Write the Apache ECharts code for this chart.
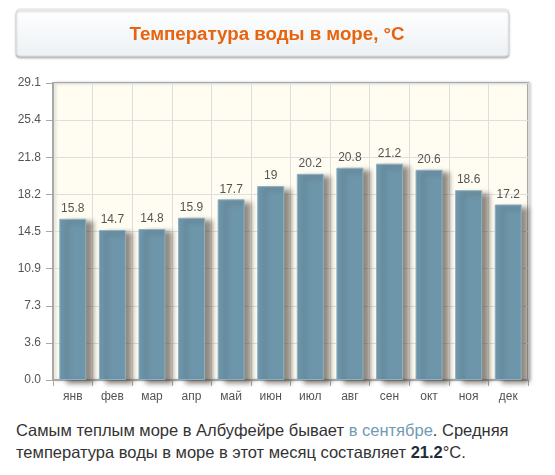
<!DOCTYPE html>
<html>
<head>
<meta charset="utf-8">
<script src="https://cdn.jsdelivr.net/npm/echarts@6/dist/echarts.min.js"></script>
<style>
  body { margin: 0; background: #fff; }
  #wrap { position: relative; width: 555px; height: 475px; }
  #chart { position: absolute; left: 0; top: 0; width: 555px; height: 410px; }
  #note {
    position: absolute; left: 16px; top: 419px; width: 535px;
    font-family: "Liberation Sans", Arial, sans-serif; font-size: 16.5px;
    line-height: 22px; color: #333;
  }
  #note .lnk { color: #6f9bb3; }
  #note b { color: #1f2d3a; }
</style>
</head>
<body>
<div id="wrap">
  <div id="chart"></div>
  <div id="note">Самым теплым море в Албуфейре бывает <span class="lnk">в сентябре</span>. Средняя температура воды в море в этот месяц составляет <b>21.2</b>°C.</div>
</div>
<script>
// данные
var months = ['янв', 'фев', 'мар', 'апр', 'май', 'июн', 'июл', 'авг', 'сен', 'окт', 'ноя', 'дек'];
var waterTemp = [15.8, 14.7, 14.8, 15.9, 17.7, 19, 20.2, 20.8, 21.2, 20.6, 18.6, 17.2];
var yTickLabels = ['0.0', '3.6', '7.3', '10.9', '14.5', '18.2', '21.8', '25.4', '29.1'];
var yMax = 29.1;
var titleText = 'Температура воды в море, °C';

var chart = echarts.init(document.getElementById('chart'));
var step = yMax / (yTickLabels.length - 1);

var option = {
  animation: false,
  textStyle: { fontFamily: '"Liberation Sans", Arial, sans-serif' },
  graphic: [
    {
      type: 'rect',
      shape: { x: 16, y: 9, width: 493, height: 47, r: 4 },
      style: {
        fill: new echarts.graphic.LinearGradient(0, 0, 0, 1, [
          { offset: 0, color: '#ffffff' },
          { offset: 1, color: '#edf1f4' }
        ]),
        stroke: '#dcdcdc',
        lineWidth: 1,
        shadowColor: 'rgba(0,0,0,0.25)',
        shadowBlur: 2,
        shadowOffsetY: 2
      },
      z: 1
    }
  ],
  title: {
    text: titleText,
    left: 262,
    top: 20,
    textAlign: 'center',
    textStyle: {
      color: '#e8630e',
      fontSize: 18.7,
      fontWeight: 'bold',
      fontFamily: '"Liberation Sans", Arial, sans-serif'
    },
    z: 5
  },
  grid: {
    left: 53, top: 83, width: 475, height: 297,
    show: true,
    backgroundColor: '#fffcf2',
    borderColor: '#a8a8a8',
    borderWidth: 2,
    shadowColor: 'rgba(0,0,0,0.15)',
    shadowBlur: 3,
    shadowOffsetX: 2
  },
  xAxis: {
    type: 'category',
    data: months,
    axisLine: { lineStyle: { color: '#a8a8a8', width: 2 } },
    axisTick: { show: true, length: 6, lineStyle: { color: '#a8a8a8' } },
    axisLabel: { color: '#555', fontSize: 12, margin: 11 },
    splitLine: { show: true, lineStyle: { color: '#dedede', width: 1 } }
  },
  yAxis: {
    type: 'value',
    min: 0,
    max: yMax,
    interval: step,
    axisLine: { show: true, lineStyle: { color: '#a8a8a8', width: 2 } },
    axisTick: { show: true, length: 7, lineStyle: { color: '#a8a8a8' } },
    axisLabel: {
      color: '#555', fontSize: 12, margin: 12,
      formatter: function (v) {
        return yTickLabels[Math.round(v / step)];
      }
    },
    splitLine: { lineStyle: { color: '#dedede', width: 1 } }
  },
  series: [
    {
      type: 'bar',
      data: waterTemp,
      barWidth: 27,
      itemStyle: {
        color: '#6d96ab',
        borderColor: '#8fb0c2',
        borderWidth: 1,
        shadowColor: 'rgba(70,60,50,0.6)',
        shadowBlur: 5,
        shadowOffsetX: 7,
        shadowOffsetY: 3
      },
      label: {
        show: true,
        position: 'top',
        distance: 4,
        color: '#555',
        fontSize: 12
      }
    }
  ]
};

chart.setOption(option);
</script>
</body>
</html>
